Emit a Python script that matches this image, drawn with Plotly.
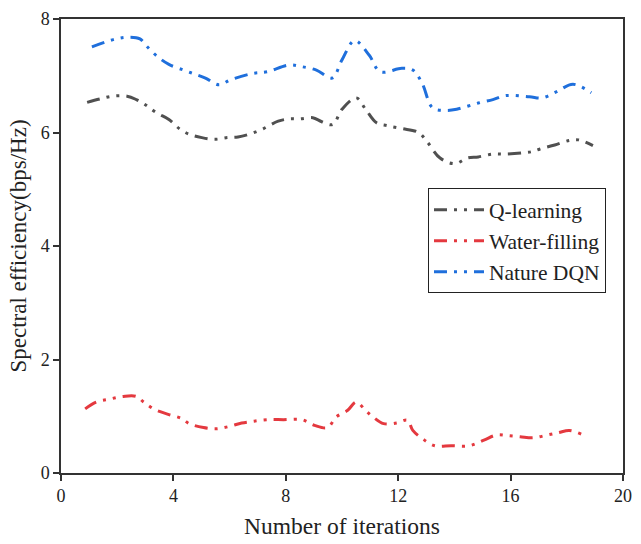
import plotly.graph_objects as go

# Iteration positions and spectral efficiency for each scheme
q_x = [0.93, 1.38, 1.84, 2.35, 2.68, 3.0, 3.39, 3.84, 4.23, 4.56, 5.01, 5.46, 5.92, 6.30,
       6.76, 7.21, 7.73, 8.12, 8.51, 8.96, 9.28, 9.67, 10.0, 10.51, 10.84, 11.23, 11.61,
       12.13, 12.72, 13.04, 13.49, 14.01, 14.46, 14.85, 15.37, 15.82, 16.41, 16.73, 17.05,
       17.57, 18.09, 18.42, 18.93]
q_y = [6.53, 6.59, 6.64, 6.64, 6.58, 6.49, 6.35, 6.23, 6.06, 5.97, 5.91, 5.88, 5.91, 5.92,
       5.98, 6.07, 6.20, 6.24, 6.24, 6.26, 6.19, 6.14, 6.41, 6.61, 6.41, 6.17, 6.12,
       6.07, 6.00, 5.83, 5.55, 5.45, 5.55, 5.57, 5.62, 5.62, 5.64, 5.66, 5.71,
       5.78, 5.86, 5.87, 5.77]

wf_x = [0.86, 1.25, 1.71, 2.22, 2.68, 2.94, 3.33, 3.84, 4.30, 4.56, 5.07, 5.53, 5.98, 6.43,
        6.82, 7.34, 7.92, 8.57, 9.02, 9.48, 9.80, 10.19, 10.51, 10.84, 11.10, 11.48, 11.94,
        12.33, 12.52, 12.85, 13.30, 13.88, 14.53, 15.05, 15.50, 15.89, 16.34, 16.80, 17.31,
        17.70, 18.09, 18.54]
wf_y = [1.13, 1.25, 1.30, 1.35, 1.35, 1.25, 1.12, 1.03, 0.96, 0.87, 0.80, 0.78, 0.82, 0.88,
        0.91, 0.94, 0.94, 0.94, 0.84, 0.80, 0.99, 1.10, 1.25, 1.10, 0.99, 0.87, 0.88,
        0.93, 0.75, 0.61, 0.48, 0.48, 0.48, 0.58, 0.67, 0.66, 0.64, 0.62, 0.67,
        0.71, 0.75, 0.68]

dqn_x = [1.10, 1.96, 2.42, 2.81, 3.07, 3.45, 3.84, 4.36, 4.75, 5.14, 5.62, 6.04, 6.82, 7.34,
         8.12, 8.57, 9.09, 9.65, 10.0, 10.45, 10.97, 11.36, 12.13, 12.52, 12.85, 13.23,
         13.69, 14.08, 14.85, 15.37, 15.82, 16.67, 17.12, 17.64, 18.22, 18.87]
dqn_y = [7.51, 7.65, 7.68, 7.65, 7.51, 7.33, 7.20, 7.10, 7.03, 6.96, 6.84, 6.93, 7.04, 7.07,
         7.19, 7.16, 7.10, 6.96, 7.28, 7.62, 7.36, 7.07, 7.13, 7.10, 6.87, 6.43,
         6.39, 6.41, 6.52, 6.58, 6.65, 6.63, 6.61, 6.72, 6.85, 6.70]

x_ticks = [0, 4, 8, 12, 16, 20]
y_ticks = [0, 2, 4, 6, 8]

series = [
    ("Q-learning", q_x, q_y, "#505050"),
    ("Water-filling", wf_x, wf_y, "#e4393f"),
    ("Nature DQN", dqn_x, dqn_y, "#1f6fdc"),
]

font_family = "Liberation Serif, Times New Roman, serif"

fig = go.Figure()
for name, xs, ys, color in series:
    fig.add_trace(go.Scatter(
        x=xs, y=ys, name=name, mode="lines", line_shape="spline",
        line=dict(color=color, width=3, dash="13px,7px,3px,7px,3px,7px"),
    ))

axis_common = dict(
    showline=True, linecolor="#333333", linewidth=1.5, mirror=True,
    ticks="outside", ticklen=6, tickwidth=1.5, tickcolor="#333333",
    showgrid=False, zeroline=False,
    tickfont=dict(family=font_family, size=18, color="#222222"),
)

fig.update_layout(
    width=641, height=544,
    margin=dict(l=61, r=9, t=16, b=68),
    paper_bgcolor="white", plot_bgcolor="white",
    font=dict(family=font_family, color="#222222"),
    xaxis=dict(range=[0, 20], tickvals=x_ticks, **axis_common,
               title=dict(text="Number of iterations", font=dict(size=23.5), standoff=12)),
    yaxis=dict(range=[0, 8], tickvals=y_ticks, **axis_common,
               title=dict(text="Spectral efficiency(bps/Hz)", font=dict(size=23), standoff=8)),
    legend=dict(
        x=0.653, y=0.627, xanchor="left", yanchor="top",
        bgcolor="white", bordercolor="#222222", borderwidth=1,
        font=dict(family=font_family, size=21.5, color="#222222"),
        tracegroupgap=0, itemwidth=50,
    ),
    showlegend=True,
)

fig.write_html("out.html")
